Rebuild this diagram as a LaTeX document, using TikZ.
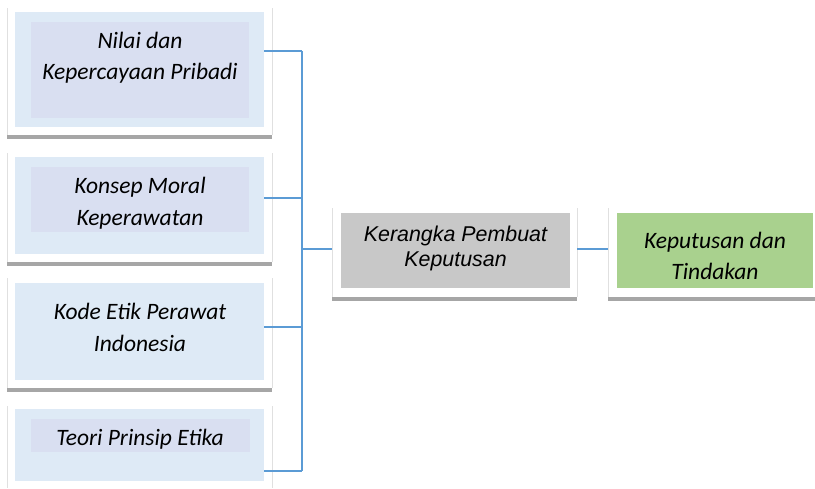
\documentclass[tikz,border=0pt]{standalone}
\usepackage{fontspec}
\setmainfont{Carlito}
\newfontfamily\arialfont{Liberation Sans}
\usetikzlibrary{calc}
\definecolor{paleblue}{HTML}{DEEAF6}
\definecolor{lavender}{HTML}{D9DFF1}
\definecolor{boxgray}{HTML}{C8C8C8}
\definecolor{boxgreen}{HTML}{A9D18E}
\definecolor{bargray}{HTML}{A6A6A6}
\definecolor{frameline}{HTML}{E0E0E0}
\definecolor{connblue}{HTML}{5B9BD5}
\tikzset{
  panel/.style={draw=none, inner sep=0pt, outer sep=0pt, anchor=north west},
  framebox/.style={draw=none, inner sep=0pt, outer sep=0pt, anchor=north west},
  frameln/.style={draw=frameline, line width=0.9pt},
  barfill/.style={fill=bargray},
  conn/.style={draw=connblue, line width=1.3pt},
  txt/.style={anchor=base, inner sep=0pt, font=\fontsize{23.5pt}{28pt}\selectfont\itshape},
  atxt/.style={anchor=base, inner sep=0pt, font=\fontsize{21.4pt}{26pt}\selectfont\arialfont\itshape},
}
\begin{document}
\begin{tikzpicture}[x=1pt,y=-1pt]
\path[use as bounding box] (0,0) rectangle (815,488);
\fill[white] (0,0) rectangle (815,488);

% ---------- frames ----------
\node[framebox, minimum width=265pt, minimum height=127pt] (f1) at (7,8) {};
\node[framebox, minimum width=265pt, minimum height=109pt] (f2) at (7,153) {};
\node[framebox, minimum width=265pt, minimum height=110pt] (f3) at (7,278) {};
\node[framebox, minimum width=265pt, minimum height=82pt] (f4) at (7,406) {};
\node[framebox, minimum width=245pt, minimum height=89pt] (kf) at (332,208) {};
\node[framebox, minimum width=207pt, minimum height=89pt] (gf) at (608,208) {};

\foreach \f in {f1,f2,f3,f4,kf}{
  \draw[frameln] (\f.north west) -- (\f.south west);
  \draw[frameln] (\f.north east) -- (\f.south east);
}
\draw[frameln] (gf.north west) -- (gf.south west);
\foreach \f in {f1,f2,f3,kf,gf}{
  \fill[barfill] (\f.south west) rectangle ($(\f.south east)+(0,4)$);
}

% ---------- left panels ----------
\node[panel, fill=paleblue, minimum width=249pt, minimum height=115pt] (b1) at (15,12) {};
\node[panel, fill=lavender, minimum width=218pt, minimum height=96pt] (b1i) at (31,22) {};
\node[txt] (t1a) at (140,48) {Nilai dan};
\node[txt] (t1b) at (140,79) {Kepercayaan Pribadi};

\node[panel, fill=paleblue, minimum width=249pt, minimum height=97pt] (b2) at (15,157) {};
\node[panel, fill=lavender, minimum width=218pt, minimum height=65pt] (b2i) at (31,167) {};
\node[txt] (t2a) at (140,193) {Konsep Moral};
\node[txt] (t2b) at (140,225) {Keperawatan};

\node[panel, fill=paleblue, minimum width=249pt, minimum height=97pt] (b3) at (15,283) {};
\node[txt] (t3a) at (140,319) {Kode Etik Perawat};
\node[txt] (t3b) at (140,351) {Indonesia};

\node[panel, fill=paleblue, minimum width=249pt, minimum height=72pt] (b4) at (15,409) {};
\node[panel, fill=lavender, minimum width=219pt, minimum height=33pt] (b4i) at (31,419) {};
\node[txt] (t4a) at (140,445) {Teori Prinsip Etika};

% ---------- center and right ----------
\node[panel, fill=boxgray, minimum width=229pt, minimum height=75pt] (k) at (341,213) {};
\node[atxt] (tka) at (455.5,241) {Kerangka Pembuat};
\node[atxt] (tkb) at (455.5,266) {Keputusan};

\node[panel, fill=boxgreen, minimum width=196pt, minimum height=75pt] (g) at (617,213) {};
\node[txt] (tga) at (715,248) {Keputusan dan};
\node[txt] (tgb) at (715,279) {Tindakan};

% ---------- connectors ----------
\coordinate (j1) at (302,51);
\coordinate (j2) at (302,198);
\coordinate (j3) at (302,327);
\coordinate (j4) at (302,471);
\coordinate (jc) at (302,249);
\coordinate (jr) at (590,249);

\draw[conn] (j1 -| b1.east) -- (j1);
\draw[conn] (j2 -| b2.east) -- (j2);
\draw[conn] (j3 -| b3.east) -- (j3);
\draw[conn] (j4 -| b4.east) -- (j4);
\draw[conn, line width=1.5pt] (j1) -- (j4);
\draw[conn] (jc) -- (jc -| kf.west);
\draw[conn] (jr -| kf.east) -- (jr -| gf.west);
\end{tikzpicture}
\end{document}
